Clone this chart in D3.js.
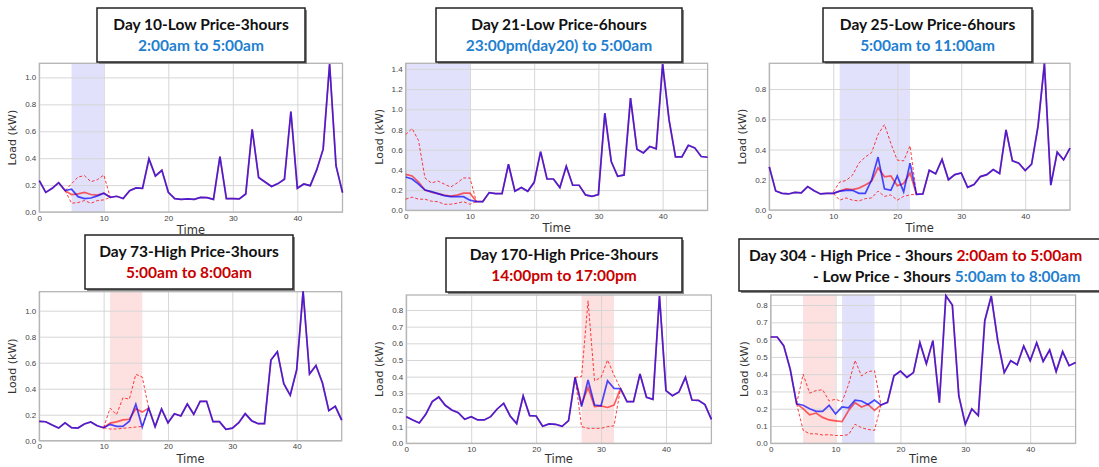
<!DOCTYPE html>
<html>
<head>
<meta charset="utf-8">
<script src="https://cdn.jsdelivr.net/npm/d3@7"></script>
<style>
body { margin: 0; background: #fff; }
svg { display: block; font-family: "DejaVu Sans", sans-serif; }
.title { font-family: Lato, "Open Sans", sans-serif; font-weight: bold; font-size: 15.5px; }
.tick text { fill: #444; font-size: 8px; }
</style>
</head>
<body>
<svg id="chart" width="1099" height="467"></svg>
<script>

// load profile (kW) for each half hour slot 0..47, this is the blue line
// the window arrays start at *_from and hold the red mean / bounds

var day10_load = [0.233, 0.146, 0.176, 0.218, 0.159, 0.169, 0.114, 0.100, 0.104, 0.120, 0.139, 0.109,
	0.117, 0.100, 0.159, 0.179, 0.176, 0.395, 0.268, 0.310, 0.146, 0.099, 0.094, 0.097,
	0.094, 0.109, 0.107, 0.094, 0.412, 0.099, 0.100, 0.097, 0.134, 0.615, 0.256, 0.223,
	0.189, 0.211, 0.243, 0.747, 0.176, 0.208, 0.196, 0.313, 0.467, 1.100, 0.342, 0.144];
var day10_from = 4;
var day10_mean = [0.159, 0.130, 0.135, 0.145, 0.130, 0.125, 0.140, 0.109];
var day10_upper = [0.159, 0.210, 0.260, 0.270, 0.225, 0.240, 0.275, 0.109];
var day10_lower = [0.159, 0.065, 0.070, 0.085, 0.065, 0.085, 0.090, 0.109];

var day21_load = [0.330, 0.310, 0.260, 0.200, 0.185, 0.165, 0.145, 0.135, 0.135, 0.135, 0.100, 0.086,
	0.086, 0.175, 0.165, 0.165, 0.456, 0.188, 0.225, 0.188, 0.277, 0.581, 0.310, 0.310,
	0.225, 0.436, 0.248, 0.248, 0.152, 0.139, 0.155, 0.961, 0.482, 0.337, 0.350, 1.110,
	0.605, 0.568, 0.631, 0.608, 1.447, 0.895, 0.529, 0.529, 0.644, 0.618, 0.532, 0.525];
var day21_from = 0;
var day21_mean = [0.355, 0.340, 0.280, 0.200, 0.180, 0.165, 0.150, 0.140, 0.150, 0.170, 0.170, 0.086];
var day21_upper = [0.750, 0.810, 0.690, 0.320, 0.270, 0.290, 0.260, 0.230, 0.270, 0.320, 0.320, 0.086];
var day21_lower = [0.110, 0.130, 0.110, 0.110, 0.090, 0.085, 0.060, 0.060, 0.070, 0.085, 0.060, 0.086];

var day25_load = [0.285, 0.126, 0.110, 0.106, 0.117, 0.113, 0.155, 0.128, 0.106, 0.110, 0.110, 0.125,
	0.130, 0.130, 0.110, 0.110, 0.200, 0.350, 0.140, 0.130, 0.225, 0.120, 0.310, 0.104,
	0.106, 0.263, 0.239, 0.334, 0.200, 0.234, 0.245, 0.150, 0.168, 0.221, 0.234, 0.267,
	0.241, 0.530, 0.325, 0.310, 0.261, 0.303, 0.553, 0.968, 0.164, 0.382, 0.332, 0.409];
var day25_from = 10;
var day25_mean = [0.110, 0.125, 0.140, 0.135, 0.145, 0.165, 0.190, 0.280, 0.220, 0.225, 0.160, 0.175, 0.245, 0.104];
var day25_upper = [0.120, 0.185, 0.195, 0.230, 0.310, 0.350, 0.380, 0.500, 0.565, 0.440, 0.330, 0.325, 0.425, 0.104];
var day25_lower = [0.110, 0.065, 0.080, 0.065, 0.060, 0.075, 0.080, 0.125, 0.090, 0.100, 0.065, 0.090, 0.100, 0.104];

var day73_load = [0.149, 0.146, 0.120, 0.097, 0.138, 0.100, 0.097, 0.128, 0.144, 0.115, 0.100, 0.125,
	0.110, 0.110, 0.150, 0.280, 0.105, 0.251, 0.108, 0.244, 0.138, 0.208, 0.190, 0.282,
	0.203, 0.303, 0.303, 0.146, 0.146, 0.087, 0.097, 0.138, 0.208, 0.154, 0.131, 0.131,
	0.620, 0.685, 0.438, 0.349, 0.544, 1.149, 0.513, 0.579, 0.446, 0.231, 0.264, 0.159];
var day73_from = 10;
var day73_mean = [0.100, 0.135, 0.145, 0.160, 0.165, 0.245, 0.220, 0.251];
var day73_upper = [0.100, 0.250, 0.200, 0.330, 0.320, 0.510, 0.490, 0.251];
var day73_lower = [0.100, 0.090, 0.090, 0.095, 0.100, 0.105, 0.110, 0.251];

var day170_load = [0.160, 0.140, 0.122, 0.174, 0.250, 0.278, 0.228, 0.200, 0.184, 0.144, 0.160, 0.140,
	0.140, 0.160, 0.206, 0.240, 0.164, 0.118, 0.284, 0.166, 0.164, 0.102, 0.116, 0.114,
	0.102, 0.136, 0.396, 0.220, 0.380, 0.230, 0.225, 0.375, 0.330, 0.328, 0.250, 0.250,
	0.416, 0.276, 0.264, 0.884, 0.316, 0.286, 0.308, 0.396, 0.260, 0.258, 0.232, 0.144];
var day170_from = 26;
var day170_mean = [0.396, 0.235, 0.335, 0.220, 0.225, 0.215, 0.230, 0.328];
var day170_upper = [0.396, 0.400, 0.855, 0.375, 0.395, 0.500, 0.410, 0.328];
var day170_lower = [0.396, 0.100, 0.090, 0.090, 0.090, 0.100, 0.105, 0.328];

var day304_load = [0.615, 0.615, 0.565, 0.430, 0.228, 0.220, 0.200, 0.185, 0.185, 0.220, 0.170, 0.210,
	0.205, 0.250, 0.245, 0.225, 0.250, 0.222, 0.237, 0.391, 0.418, 0.382, 0.409, 0.582,
	0.460, 0.594, 0.235, 0.854, 0.800, 0.274, 0.110, 0.199, 0.160, 0.709, 0.852, 0.594,
	0.409, 0.478, 0.455, 0.563, 0.478, 0.582, 0.474, 0.540, 0.415, 0.530, 0.449, 0.468];
var day304_from = 4;
var day304_mean = [0.228, 0.200, 0.165, 0.175, 0.150, 0.135, 0.130, 0.125, 0.190, 0.235, 0.210, 0.225, 0.190, 0.222];
var day304_upper = [0.228, 0.400, 0.290, 0.305, 0.310, 0.245, 0.255, 0.240, 0.340, 0.480, 0.390, 0.415, 0.420, 0.222];
var day304_lower = [0.228, 0.075, 0.055, 0.055, 0.048, 0.050, 0.045, 0.045, 0.050, 0.110, 0.090, 0.080, 0.075, 0.222];

var X_TICKS = [0, 10, 20, 30, 40];

var BLUE_TXT = "#1f80d0",
	RED_TXT = "#c80000",
	BLUE_SHADE = "#e1e1fb",
	RED_SHADE = "#fde0e0";

var svg = d3.select("#chart");

var panels = [
	{ load: day10_load, from: day10_from, mean: day10_mean, upper: day10_upper, lower: day10_lower,
		ymax: 1.105, yticks: [0, 0.2, 0.4, 0.6, 0.8, 1.0], fmt: ".1f",
		shades: [[5, 10, BLUE_SHADE]],
		plot: [39.3, 342.5, 63.3, 212],
		box: [97, 8, 208, 54],
		title: [[["Day 10-Low Price-3hours", "#111"]], [["2:00am to 5:00am", BLUE_TXT]]] },
	{ load: day21_load, from: day21_from, mean: day21_mean, upper: day21_upper, lower: day21_lower,
		ymax: 1.455, yticks: [0, 0.2, 0.4, 0.6, 0.8, 1.0, 1.2, 1.4], fmt: ".1f",
		shades: [[0, 10, BLUE_SHADE]],
		plot: [405.7, 707.6, 63.3, 210.3],
		box: [436, 8, 246, 54],
		title: [[["Day 21-Low Price-6hours", "#111"]], [["23:00pm(day20) to 5:00am", BLUE_TXT]]] },
	{ load: day25_load, from: day25_from, mean: day25_mean, upper: day25_upper, lower: day25_lower,
		ymax: 0.97, yticks: [0, 0.2, 0.4, 0.6, 0.8], fmt: ".1f",
		shades: [[11, 22, BLUE_SHADE]],
		plot: [769.3, 1070, 63.3, 210],
		box: [823, 8, 209, 54],
		title: [[["Day 25-Low Price-6hours", "#111"]], [["5:00am to 11:00am", BLUE_TXT]]] },
	{ load: day73_load, from: day73_from, mean: day73_mean, upper: day73_upper, lower: day73_lower,
		ymax: 1.146, yticks: [0, 0.2, 0.4, 0.6, 0.8, 1.0], fmt: ".1f",
		shades: [[11, 16, RED_SHADE]],
		plot: [39.3, 341.7, 291.7, 440.7],
		box: [85, 235, 208, 54],
		title: [[["Day 73-High Price-3hours", "#111"]], [["5:00am to 8:00am", RED_TXT]]] },
	{ load: day170_load, from: day170_from, mean: day170_mean, upper: day170_upper, lower: day170_lower,
		ymax: 0.89, yticks: [0, 0.1, 0.2, 0.3, 0.4, 0.5, 0.6, 0.7, 0.8], fmt: ".1f",
		shades: [[27, 32, RED_SHADE]],
		plot: [406.3, 711.4, 295, 443.3],
		box: [446, 238, 236, 54],
		title: [[["Day 170-High Price-3hours", "#111"]], [["14:00pm to 17:00pm", RED_TXT]]] },
	{ load: day304_load, from: day304_from, mean: day304_mean, upper: day304_upper, lower: day304_lower,
		ymax: 0.858, yticks: [0, 0.1, 0.2, 0.3, 0.4, 0.5, 0.6, 0.7, 0.8], fmt: ".1f",
		shades: [[5, 10, RED_SHADE], [11, 16, BLUE_SHADE]],
		plot: [770.7, 1075.6, 295, 443.3],
		box: [739, 239, 361, 52],
		left: [749, 813],
		title: [[["Day 304 - High Price - 3hours ", "#111"], ["2:00am to 5:00am", RED_TXT]],
			[["- Low Price - 3hours ", "#111"], ["5:00am to 8:00am", BLUE_TXT]]] }
];

var plots = svg.append("g").attr("id", "plots");
var boxes = svg.append("g").attr("id", "boxes");

panels.forEach(function(p, k) {
	var x = d3.scaleLinear().domain([0, 47]).range([p.plot[0], p.plot[1]]);
	var y = d3.scaleLinear().domain([0, p.ymax]).range([p.plot[3], p.plot[2]]);
	var g = plots.append("g").attr("id", "panel_" + k);

	// highlighted price windows
	g.selectAll(".shade")
		.data(p.shades)
		.enter()
		.append("rect")
		.attr("x", function(d) { return x(d[0]); })
		.attr("width", function(d) { return x(d[1]) - x(d[0]); })
		.attr("y", y(p.ymax))
		.attr("height", y(0) - y(p.ymax))
		.style("fill", function(d) { return d[2]; });

	// grid
	var w = x(47) - x(0), h = y(0) - y(p.ymax);
	var gx = g.append("g")
		.attr("transform", "translate(0," + y(0) + ")")
		.call(d3.axisBottom(x).tickValues(X_TICKS).tickSize(-h).tickPadding(3));
	var gy = g.append("g")
		.attr("transform", "translate(" + x(0) + ",0)")
		.call(d3.axisLeft(y).tickValues(p.yticks).tickFormat(d3.format(p.fmt)).tickSize(-w).tickPadding(3));
	[gx, gy].forEach(function(a) {
		a.select(".domain").remove();
		a.selectAll(".tick line").style("stroke", "#d6d6d6").style("stroke-width", 1);
		a.selectAll(".tick text").style("font-size", "8px").style("fill", "#444");
	});

	// frame
	g.append("rect")
		.attr("x", x(0)).attr("y", y(p.ymax))
		.attr("width", w).attr("height", h)
		.style("fill", "none")
		.style("stroke", "#b4b4b4")
		.style("stroke-width", 1.3);

	var line = d3.line()
		.x(function(d) { return x(d[0]); })
		.y(function(d) { return y(d[1]); });

	var win = function(arr) {
		return arr.map(function(v, i) { return [p.from + i, v]; });
	};
	// red mean follows the load outside the window
	var meanFull = p.load.map(function(v, i) {
		var j = i - p.from;
		return [i, (j >= 0 && j < p.mean.length) ? p.mean[j] : v];
	});
	var blue = p.load.map(function(v, i) { return [i, v]; });

	[p.upper, p.lower].forEach(function(b) {
		g.append("path")
			.attr("d", line(win(b)))
			.style("fill", "none")
			.style("stroke", "red")
			.style("stroke-opacity", 0.75)
			.style("stroke-width", 1)
			.style("stroke-dasharray", "3,2");
	});

	g.append("path")
		.attr("d", line(meanFull))
		.style("fill", "none")
		.style("stroke", "red")
		.style("stroke-opacity", 0.62)
		.style("stroke-width", 1.7);

	g.append("path")
		.attr("d", line(blue))
		.style("fill", "none")
		.style("stroke", "blue")
		.style("stroke-opacity", 0.7)
		.style("stroke-width", 1.7);

	// axis titles
	g.append("text")
		.attr("transform", "translate(" + (x(0) - 23) + "," + ((y(0) + y(p.ymax)) / 2) + ") rotate(-90)")
		.attr("text-anchor", "middle")
		.style("font-size", "11px")
		.style("fill", "#333")
		.text("Load (kW)");

	g.append("text")
		.attr("x", (x(0) + x(47)) / 2)
		.attr("y", Math.min(y(0) + 22, 463))
		.attr("text-anchor", "middle")
		.style("font-size", "11.5px")
		.style("fill", "#333")
		.text("Time");

	// title box, drawn later in its own layer so it covers the row above
	var b = boxes.append("g");
	b.append("rect")
		.attr("x", p.box[0] + 2).attr("y", p.box[1] + 2)
		.attr("width", p.box[2]).attr("height", p.box[3])
		.style("fill", "#888");
	b.append("rect")
		.attr("x", p.box[0]).attr("y", p.box[1])
		.attr("width", p.box[2]).attr("height", p.box[3])
		.style("fill", "#fff")
		.style("stroke", "#222")
		.style("stroke-width", 1.5);

	p.title.forEach(function(segs, li) {
		var t = b.append("text")
			.attr("class", "title")
			.attr("y", p.box[1] + (li == 0 ? 22 : 43));
		if (p.left) {
			t.attr("x", p.left[li]).attr("text-anchor", "start");
		} else {
			t.attr("x", p.box[0] + p.box[2] / 2).attr("text-anchor", "middle");
		}
		segs.forEach(function(s) {
			t.append("tspan").text(s[0]).style("fill", s[1]);
		});
	});
});

</script>
</body>
</html>
